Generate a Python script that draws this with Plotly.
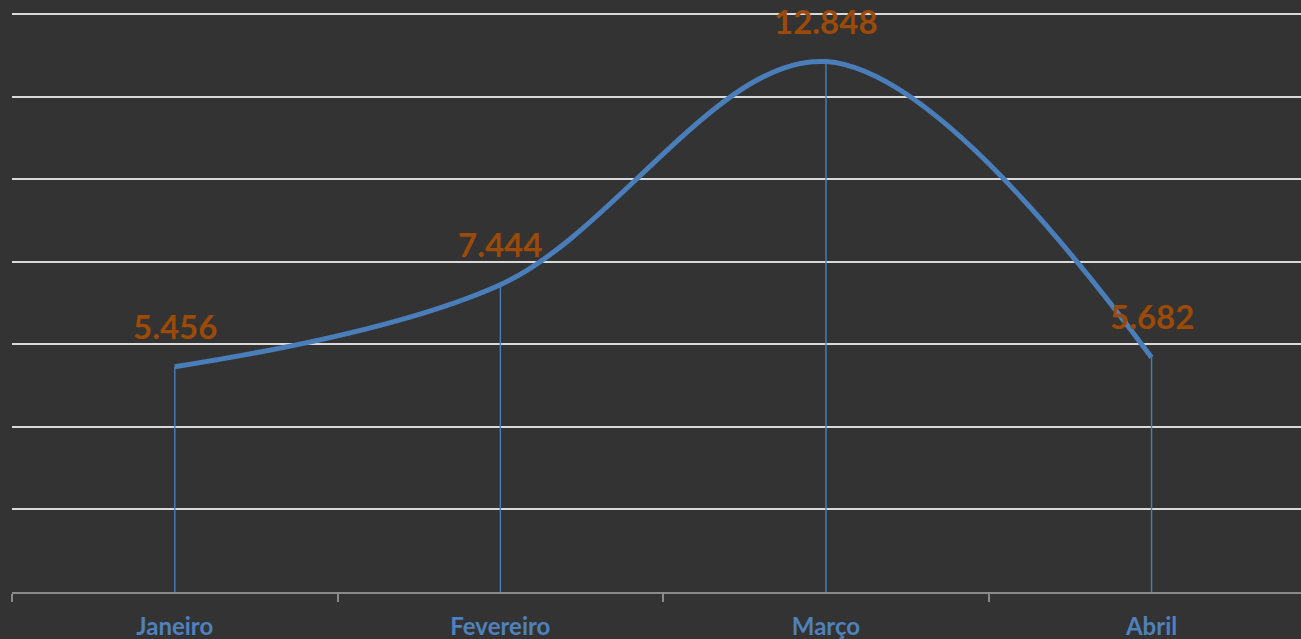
import plotly.graph_objects as go

months = ["Janeiro", "Fevereiro", "Março", "Abril"]
values = [5.456, 7.444, 12.848, 5.682]
labels = ["5.456", "7.444", "12.848", "5.682"]

BG = "#333333"
LINE = "#4A7EBB"
LABEL = "#9C4A08"
FONT = "Lato, 'Open Sans', sans-serif"

fig = go.Figure()
fig.add_trace(go.Scatter(
    x=months, y=values, mode="lines",
    line=dict(color=LINE, width=5, shape="spline", smoothing=1.0),
    error_y=dict(type="data", symmetric=False, array=[0] * len(values),
                 arrayminus=values, width=0, thickness=1.4, color=LINE),
    hoverinfo="skip", showlegend=False,
))

for m, v, t in zip(months, values, labels):
    fig.add_annotation(x=m, y=v, text=f"<b>{t}</b>", showarrow=False,
                       yshift=41, font=dict(family=FONT, size=33, color=LABEL))

fig.update_layout(
    width=1301, height=639,
    paper_bgcolor=BG, plot_bgcolor=BG,
    margin=dict(l=12, r=0, t=13, b=47),
    xaxis=dict(type="category", range=[-0.5, 3.459], tickson="boundaries",
               ticks="outside", ticklen=8, tickwidth=1.5, tickcolor="#8a8a8a",
               showline=True, linecolor="#8a8a8a", linewidth=2,
               showgrid=False, zeroline=False, ticklabelstandoff=12,
               tickfont=dict(family=FONT, size=24, color="#4F81BD"),
               tickprefix="<b>", ticksuffix="</b>"),
    yaxis=dict(range=[0, 14.025], tick0=0, dtick=2, showticklabels=False, ticks="",
               showgrid=True, gridcolor="#d9d9d9", gridwidth=2,
               zeroline=False, showline=False),
)

fig.write_html(
    "out.html",
    config={"displayModeBar": False},
    post_script="document.body.style.margin='0';document.body.style.background='#333333';document.body.style.overflow='hidden';",
)
